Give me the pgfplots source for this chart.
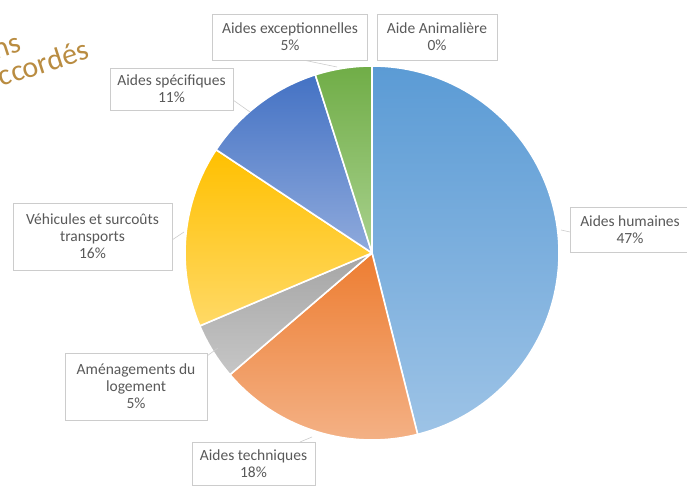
\documentclass[border=0pt]{standalone}
\usepackage{pgfplots}
\pgfplotsset{compat=1.18}
\usepackage{pgfplotstable}
\usepackage{fontspec}
\setmainfont{Carlito}

\definecolor{c0t}{HTML}{5B9BD5}\definecolor{c0b}{HTML}{9DC3E6}
\definecolor{c1t}{HTML}{ED7D31}\definecolor{c1b}{HTML}{F4B48A}
\definecolor{c2t}{HTML}{A5A5A5}\definecolor{c2b}{HTML}{C6C6C6}
\definecolor{c3t}{HTML}{FFC000}\definecolor{c3b}{HTML}{FFD966}
\definecolor{c4t}{HTML}{4472C4}\definecolor{c4b}{HTML}{8FAADC}
\definecolor{c5t}{HTML}{70AD47}\definecolor{c5b}{HTML}{A9D18E}
\definecolor{c6t}{HTML}{5B9BD5}\definecolor{c6b}{HTML}{5B9BD5}
\definecolor{lbltext}{HTML}{595959}
\definecolor{lblbox}{HTML}{CCCCCC}
\definecolor{titlecol}{RGB}{185,140,65}

\tikzset{lbl/.style={draw=lblbox, fill=white, align=center, text=lbltext,
    font=\fontsize{15.5}{17}\selectfont, inner sep=1pt}}

% share of each kind of aid (%), clockwise from the top
\pgfplotstableread{
idx value
0 47
1 18
2 5
3 16
4 11
5 5
6 0
}\pietable

\begin{document}
\begin{tikzpicture}
\path[use as bounding box, clip] (0,0) rectangle (687pt,486pt);
\begin{axis}[hide axis, scale only axis, width=687pt, height=486pt,
  xmin=0, xmax=687, ymin=-486, ymax=0, clip=false]
\addplot[draw=none] coordinates {(0,0)};
\def\cum{0}
\pgfplotsforeachungrouped \i in {0,...,6}{%
  \pgfplotstablegetelem{\i}{value}\of\pietable
  \let\v\pgfplotsretval
  \pgfmathsetmacro\a{90-\cum/102*360}%
  \pgfmathsetmacro\cum{\cum+\v}%
  \pgfmathsetmacro\b{90-\cum/102*360}%
  \pgfmathtruncatemacro\pos{\v>0}%
  \ifnum\pos=1
    \edef\temp{\noexpand\shadedraw[draw=white, line width=1.6pt, line join=round,
      top color=c\i t, bottom color=c\i b]
      (axis cs:372,-253) -- ++(\a:187pt) arc[start angle=\a, end angle=\b, radius=187pt] -- cycle;}%
  \else
    \edef\temp{\noexpand\draw[white, line width=1.6pt] (axis cs:372,-253) -- ++(\a:187pt);}%
  \fi
  \temp
}
% leader lines
\draw[lblbox, line width=0.6pt] (axis cs:303,-60) -- (axis cs:337,-67);
\draw[lblbox, line width=0.6pt] (axis cs:233,-100) -- (axis cs:250,-112);
\draw[lblbox, line width=0.6pt] (axis cs:172,-240) -- (axis cs:184,-232);
\draw[lblbox, line width=0.6pt] (axis cs:207,-356) -- (axis cs:218,-348);
\draw[lblbox, line width=0.6pt] (axis cs:300,-442) -- (axis cs:312,-437);
\draw[lblbox, line width=0.6pt] (axis cs:570,-232) -- (axis cs:561,-230);
% data labels
\node[lbl, minimum width=155pt, minimum height=46pt] at (axis cs:290,-37) {Aides exceptionnelles\\5\%};
\node[lbl, minimum width=120pt, minimum height=46pt] at (axis cs:437,-37) {Aide Animalière\\0\%};
\node[lbl, minimum width=123pt, minimum height=42pt] at (axis cs:171.5,-89) {Aides spécifiques\\11\%};
\node[lbl, minimum width=159pt, minimum height=67pt] at (axis cs:92.5,-236.5) {Véhicules et surcoûts\\transports\\16\%};
\node[lbl, minimum width=142pt, minimum height=67pt] at (axis cs:136,-386.5) {Aménagements du\\logement\\5\%};
\node[lbl, minimum width=123pt, minimum height=43pt] at (axis cs:253.5,-463.5) {Aides techniques\\18\%};
\node[lbl, minimum width=120pt, minimum height=45pt] at (axis cs:630,-229.5) {Aides humaines\\47\%};
% cut-off title
\node[rotate=18, anchor=base east, text=titlecol, font=\fontsize{30}{32}\selectfont, inner sep=0pt] at (axis cs:23,-51) {ns};
\node[rotate=18, anchor=base east, text=titlecol, font=\fontsize{30}{32}\selectfont, inner sep=0pt] at (axis cs:91,-58) {ccordés};
\end{axis}
\end{tikzpicture}
\end{document}
